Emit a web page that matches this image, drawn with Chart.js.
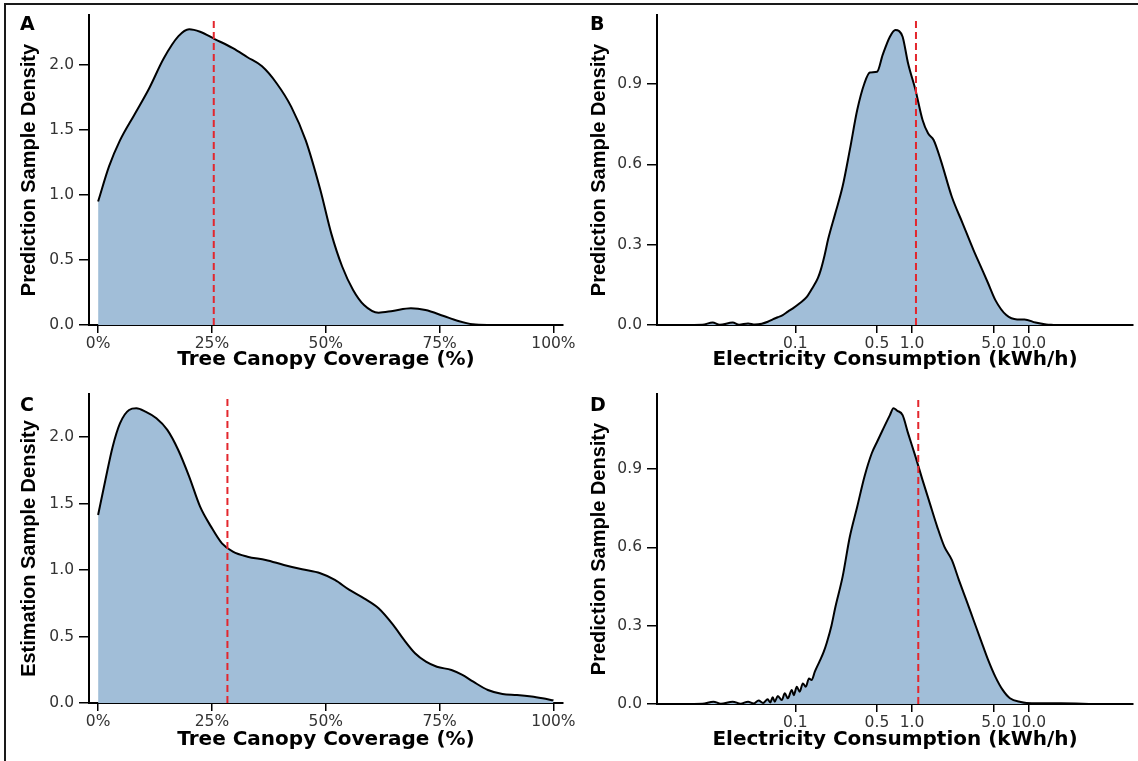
<!DOCTYPE html>
<html><head><meta charset="utf-8">
<script src="https://cdn.jsdelivr.net/npm/chart.js@4.4.1/dist/chart.umd.min.js"></script>
<style>
html,body{margin:0;padding:0;background:#fff;width:1138px;height:761px;overflow:hidden}
#wrap{position:relative;width:1138px;height:761px;background:#fff}
canvas{position:absolute}
.frame{position:absolute;left:4px;top:3px;width:1150px;height:780px;border-left:2px solid #1a1a1a;border-top:2px solid #1a1a1a}
.lbl{position:absolute;font-family:"DejaVu Sans";font-weight:bold;font-size:19px;line-height:1;color:#000}
</style></head><body>
<div id="wrap">
<div class="frame"></div>
<canvas id="cA" width="590" height="380" style="left:0;top:0"></canvas>
<canvas id="cB" width="569" height="380" style="left:569px;top:0"></canvas>
<canvas id="cC" width="590" height="381" style="left:0;top:380px"></canvas>
<canvas id="cD" width="569" height="381" style="left:569px;top:380px"></canvas>
<div class="lbl" style="left:20px;top:14px">A</div>
<div class="lbl" style="left:590px;top:14px">B</div>
<div class="lbl" style="left:20px;top:395px">C</div>
<div class="lbl" style="left:590px;top:395px">D</div>
</div>
<script>
// ---------- Data ----------
// Panel A: tree canopy coverage (%) vs prediction sample density
const canopyA = [0, 2.4, 4.8, 8, 11.2, 14.4, 17.6, 20, 22.4, 25.6, 29.6, 32.8, 36, 39.2, 42.4, 45.6, 48.8, 51.2, 53.6, 56, 58.4, 61.6, 64.7, 68.7, 71.9, 75.9, 79.1, 82.3, 85.5, 88];
const densityA = [0.95, 1.22, 1.42, 1.62, 1.82, 2.05, 2.22, 2.275, 2.256, 2.20, 2.13, 2.06, 1.99, 1.86, 1.68, 1.42, 1.04, 0.705, 0.45, 0.27, 0.154, 0.095, 0.108, 0.128, 0.115, 0.069, 0.031, 0.005, 0, 0];
const medianA = 25.4;

// Panel B: electricity consumption (kWh/h) vs prediction sample density
const elecB = [0.0101, 0.0160, 0.0196, 0.0225, 0.0291, 0.0330, 0.0394, 0.0450, 0.0516, 0.0581, 0.0641, 0.0708, 0.0781, 0.0863, 0.0953, 0.109, 0.126, 0.141, 0.156, 0.165, 0.178, 0.191, 0.220, 0.254, 0.293, 0.339, 0.391, 0.435, 0.502, 0.560, 0.646, 0.719, 0.773, 0.830, 0.924, 1.07, 1.23, 1.37, 1.53, 1.76, 2.19, 2.71, 3.36, 3.88, 4.48, 5.17, 6.41, 7.94, 9.18, 11.4, 14.1, 16.3];
const densityB = [0, 0.001, 0.009, 0.001, 0.009, 0.001, 0.006, 0.002, 0.005, 0.012, 0.021, 0.029, 0.037, 0.050, 0.062, 0.081, 0.106, 0.14, 0.175, 0.205, 0.26, 0.32, 0.417, 0.517, 0.654, 0.803, 0.903, 0.943, 0.946, 1.009, 1.077, 1.102, 1.098, 1.077, 0.978, 0.878, 0.766, 0.716, 0.691, 0.616, 0.479, 0.38, 0.28, 0.218, 0.156, 0.093, 0.037, 0.021, 0.021, 0.009, 0.002, 0];
const medianB = 1.08;

// Panel C: tree canopy coverage (%) vs estimation sample density
const canopyC = [0, 1.6, 3.2, 4.8, 6.8, 8.4, 10.4, 12.8, 15.2, 17.6, 20, 22.4, 24.8, 27.2, 29.6, 32.8, 36.8, 40.8, 44.8, 48.8, 52, 55.2, 58.4, 61.6, 64.8, 67.2, 69.6, 72, 74.4, 77.6, 80, 82.4, 85.6, 88.8, 92, 95.2, 97.6, 100];
const densityC = [1.413, 1.677, 1.927, 2.102, 2.203, 2.215, 2.19, 2.14, 2.053, 1.902, 1.702, 1.476, 1.326, 1.2, 1.138, 1.1, 1.075, 1.038, 1.005, 0.975, 0.925, 0.85, 0.787, 0.712, 0.587, 0.474, 0.374, 0.311, 0.273, 0.248, 0.211, 0.16, 0.098, 0.068, 0.06, 0.048, 0.035, 0.02];
const medianC = 28.4;

// Panel D: electricity consumption (kWh/h) vs prediction sample density
const elecD = [0.0101, 0.0160, 0.0199, 0.0230, 0.0291, 0.0340, 0.0394, 0.0440, 0.0485, 0.0530, 0.0580, 0.0610, 0.0641, 0.0667, 0.0708, 0.0766, 0.0813, 0.0863, 0.0933, 0.0970, 0.103, 0.109, 0.116, 0.123, 0.131, 0.138, 0.147, 0.162, 0.175, 0.186, 0.204, 0.220, 0.254, 0.293, 0.339, 0.391, 0.451, 0.502, 0.560, 0.646, 0.693, 0.745, 0.830, 0.925, 1.07, 1.23, 1.42, 1.64, 1.89, 2.19, 2.52, 2.91, 3.36, 3.88, 4.48, 5.16, 5.97, 6.89, 8.53, 10.6, 18.8, 35.8];
const densityD = [0, 0.001, 0.009, 0.001, 0.009, 0.001, 0.009, 0.002, 0.013, 0.004, 0.018, 0.006, 0.026, 0.009, 0.031, 0.015, 0.041, 0.022, 0.054, 0.034, 0.066, 0.047, 0.079, 0.066, 0.098, 0.092, 0.124, 0.165, 0.2, 0.235, 0.3, 0.37, 0.487, 0.641, 0.756, 0.871, 0.96, 1.005, 1.05, 1.107, 1.133, 1.124, 1.107, 1.037, 0.948, 0.858, 0.769, 0.680, 0.603, 0.552, 0.475, 0.399, 0.322, 0.245, 0.169, 0.105, 0.054, 0.022, 0.008, 0.003, 0.003, 0];
const medianD = 1.13;

// Tick values / labels
const canopyTicks = [0, 25, 50, 75, 100];
const canopyTickLabels = ['0%', '25%', '50%', '75%', '100%'];
const elecTicks = [0.1, 0.5, 1, 5, 10];
const elecTickLabels = ['0.1', '0.5', '1.0', '5.0', '10.0'];
const densTicksAC = [0, 0.5, 1, 1.5, 2];
const densTickLabelsAC = ['0.0', '0.5', '1.0', '1.5', '2.0'];
const densTicksBD = [0, 0.3, 0.6, 0.9];
const densTickLabelsBD = ['0.0', '0.3', '0.6', '0.9'];

// ---------- Drawing ----------
const FILL = 'rgb(161,190,216)';
const TICKFONT = {family: 'DejaVu Sans', size: 15.5};

function buildChart(id, p) {
  return new Chart(document.getElementById(id), {
    type: 'line',
    data: {
      datasets: [
        {data: p.xs.map((x, i) => ({x: x, y: p.ys[i]})), borderColor: '#000', borderWidth: 2,
         backgroundColor: FILL, fill: 'origin', pointRadius: 0, cubicInterpolationMode: 'monotone', order: 2},
        {data: [{x: p.median, y: 0}, {x: p.median, y: p.dashTop}], borderColor: '#e3262d', borderWidth: 2,
         borderDash: [7, 4], pointRadius: 0, fill: false, order: 1}
      ]
    },
    options: {
      responsive: false, animation: false, events: [],
      layout: {autoPadding: false, padding: {left: 0, top: p.padTop, right: p.padRight, bottom: 0}},
      plugins: {legend: {display: false}, tooltip: {enabled: false}},
      scales: {
        x: {
          type: p.xType, min: p.xMin, max: p.xMax, position: 'bottom',
          afterBuildTicks: s => { s.ticks = p.xTicks.map(v => ({value: v})); },
          afterFit: s => { s.height = p.xHeight; s.paddingLeft = 0; s.paddingRight = 0; },
          ticks: {autoSkip: false, maxRotation: 0, minRotation: 0, padding: 2, color: '#333', font: TICKFONT,
                  callback: (v, i) => p.xLabels[i]},
          grid: {drawOnChartArea: false, drawTicks: true, tickLength: 8, color: '#000', lineWidth: 1.5},
          border: {display: true, color: '#000', width: 2},
          title: {display: true, text: p.xTitle, color: '#000',
                  font: {family: 'DejaVu Sans', weight: 'bold', size: 20}, padding: {top: 0, bottom: p.xTitlePad}}
        },
        y: {
          type: 'linear', min: 0, max: p.yMax, position: 'left',
          afterBuildTicks: s => { s.ticks = p.yTicks.map(v => ({value: v})); },
          afterFit: s => { s.width = p.yWidth; s.paddingTop = 0; s.paddingBottom = 0; },
          ticks: {autoSkip: false, padding: 5, color: '#333', font: TICKFONT,
                  callback: (v, i) => p.yLabels[i]},
          grid: {drawOnChartArea: false, drawTicks: true, tickLength: 10, color: '#000', lineWidth: 1.5},
          border: {display: true, color: '#000', width: 2},
          title: {display: true, text: p.yTitle, color: '#000',
                  font: {family: 'Liberation Sans', weight: 'bold', size: 20}, padding: {top: p.yTitlePad, bottom: 0}}
        }
      }
    }
  });
}

buildChart('cA', {xs: canopyA, ys: densityA, median: medianA, dashTop: 2.354,
  xType: 'linear', xMin: -2, xMax: 102.1, xTicks: canopyTicks, xLabels: canopyTickLabels,
  yMax: 2.385, yTicks: densTicksAC, yLabels: densTickLabelsAC,
  xTitle: 'Tree Canopy Coverage (%)', yTitle: 'Prediction Sample Density',
  padTop: 15, padRight: 27, yWidth: 89, xHeight: 55, xTitlePad: 8.5, yTitlePad: 17.5});

buildChart('cB', {xs: elecB, ys: densityB, median: medianB, dashTop: 1.143,
  xType: 'logarithmic', xMin: 0.00654, xMax: 78, xTicks: elecTicks, xLabels: elecTickLabels,
  yMax: 1.158, yTicks: densTicksBD, yLabels: densTickLabelsBD,
  xTitle: 'Electricity Consumption (kWh/h)', yTitle: 'Prediction Sample Density',
  padTop: 15, padRight: 5, yWidth: 88, xHeight: 55, xTitlePad: 8.5, yTitlePad: 18.5});

buildChart('cC', {xs: canopyC, ys: densityC, median: medianC, dashTop: 2.30,
  xType: 'linear', xMin: -2, xMax: 102.1, xTicks: canopyTicks, xLabels: canopyTickLabels,
  yMax: 2.323, yTicks: densTicksAC, yLabels: densTickLabelsAC,
  xTitle: 'Tree Canopy Coverage (%)', yTitle: 'Estimation Sample Density',
  padTop: 14, padRight: 27, yWidth: 89, xHeight: 58, xTitlePad: 9.5, yTitlePad: 17.5});

buildChart('cD', {xs: elecD, ys: densityD, median: medianD, dashTop: 1.176,
  xType: 'logarithmic', xMin: 0.00654, xMax: 78, xTicks: elecTicks, xLabels: elecTickLabels,
  yMax: 1.188, yTicks: densTicksBD, yLabels: densTickLabelsBD,
  xTitle: 'Electricity Consumption (kWh/h)', yTitle: 'Prediction Sample Density',
  padTop: 14, padRight: 5, yWidth: 88, xHeight: 57, xTitlePad: 9.5, yTitlePad: 18.5});
</script>
</body></html>
